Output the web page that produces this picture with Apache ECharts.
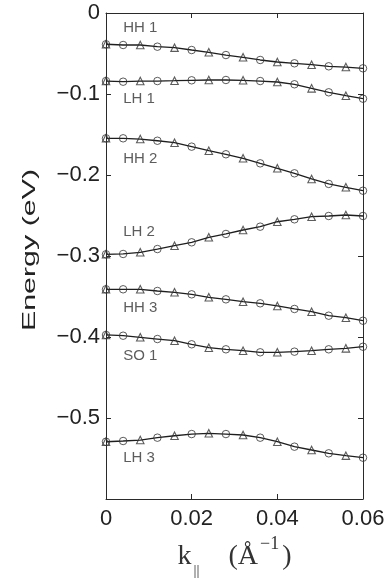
<!DOCTYPE html>
<html>
<head>
<meta charset="utf-8">
<script src="https://cdn.jsdelivr.net/npm/echarts@6/dist/echarts.min.js"></script>
<style>
html,body{margin:0;padding:0;background:#fff;}
#chart{width:387px;height:581px;}
</style>
</head>
<body>
<div id="chart"></div>
<script>
// k values (1/Å)
const kValues = [0, 0.004, 0.008, 0.012, 0.016, 0.020, 0.024, 0.028, 0.032, 0.036, 0.040, 0.044, 0.048, 0.052, 0.056, 0.060];
// marker type at each k: 'b' = circle + triangle, 'o' = circle, 't' = triangle
const markerTypes = ['b', 'o', 't', 'o', 't', 'o', 't', 'o', 't', 'o', 't', 'o', 't', 'o', 't', 'o'];

// subband energies (eV)
const hh1 = [-0.0386, -0.0395, -0.0395, -0.0416, -0.0428, -0.0457, -0.0485, -0.0519, -0.0547, -0.0580, -0.0605, -0.0621, -0.0638, -0.0658, -0.0667, -0.0683];
const lh1 = [-0.0840, -0.0848, -0.0840, -0.0840, -0.0836, -0.0831, -0.0827, -0.0827, -0.0831, -0.0840, -0.0852, -0.0880, -0.0930, -0.0979, -0.1021, -0.1058];
const hh2 = [-0.1547, -0.1547, -0.1556, -0.1577, -0.1601, -0.1650, -0.1700, -0.1744, -0.1794, -0.1856, -0.1917, -0.1979, -0.2049, -0.2110, -0.2152, -0.2194];
const lh2 = [-0.2979, -0.2975, -0.2954, -0.2914, -0.2873, -0.2831, -0.2769, -0.2728, -0.2679, -0.2638, -0.2577, -0.2547, -0.2515, -0.2506, -0.2494, -0.2506];
const hh3 = [-0.3411, -0.3411, -0.3411, -0.3432, -0.3448, -0.3473, -0.3510, -0.3535, -0.3564, -0.3584, -0.3617, -0.3654, -0.3688, -0.3737, -0.3762, -0.3799];
const so1 = [-0.3975, -0.3984, -0.4004, -0.4025, -0.4046, -0.4090, -0.4132, -0.4152, -0.4169, -0.4189, -0.4189, -0.4181, -0.4169, -0.4152, -0.4140, -0.4120];
const lh3 = [-0.5293, -0.5284, -0.5272, -0.5243, -0.5219, -0.5198, -0.5189, -0.5198, -0.5210, -0.5243, -0.5293, -0.5354, -0.5395, -0.5436, -0.5465, -0.5490];

const bandNames = ['HH 1', 'LH 1', 'HH 2', 'LH 2', 'HH 3', 'SO 1', 'LH 3'];
const bandLabelK = [0.004, 0.004, 0.004, 0.004, 0.004, 0.004, 0.004];
const bandLabelE = [-0.0185, -0.106, -0.1806, -0.2707, -0.3638, -0.4231, -0.5486];

// axis ticks
const xTicks = [0, 0.02, 0.04, 0.06];
const yTicks = [0, -0.1, -0.2, -0.3, -0.4, -0.5, -0.6];
const yTickLabels = ['0', '\u22120.1', '\u22120.2', '\u22120.3', '\u22120.4', '\u22120.5', ''];

const bands = [hh1, lh1, hh2, lh2, hh3, so1, lh3];

const lineColor = '#1e1e1e';
const markColor = '#333';

const series = [];
bands.forEach((b, i) => {
  series.push({
    type: 'line', name: bandNames[i], xAxisIndex: 0, yAxisIndex: 0,
    data: kValues.map((k, j) => [k, b[j]]),
    symbol: 'none', smooth: false,
    lineStyle: { color: lineColor, width: 1.3 },
    z: 3, silent: true
  });
});
const circles = [], tris = [];
bands.forEach((b) => {
  kValues.forEach((k, j) => {
    if (markerTypes[j] === 'o' || markerTypes[j] === 'b') circles.push([k, b[j]]);
    if (markerTypes[j] === 't' || markerTypes[j] === 'b') tris.push([k, b[j]]);
  });
});
series.push({
  type: 'scatter', name: 'circles', data: circles, symbol: 'circle', symbolSize: 7.5,
  itemStyle: { color: 'rgba(0,0,0,0)', borderColor: markColor, borderWidth: 1 }, z: 4, silent: true
});
series.push({
  type: 'scatter', name: 'triangles', data: tris, symbol: 'triangle', symbolSize: 7.5,
  itemStyle: { color: 'rgba(0,0,0,0)', borderColor: markColor, borderWidth: 1.1 }, z: 4, silent: true
});
series.push({
  type: 'scatter', name: 'labels',
  data: bandNames.map((n, i) => ({ value: [bandLabelK[i], bandLabelE[i]], name: n })),
  symbolSize: 0, silent: true, z: 5,
  label: {
    show: true, position: 'right', distance: 0,
    formatter: p => p.name,
    fontFamily: 'Liberation Sans, Arial, sans-serif', fontSize: 15, color: '#333'
  }
});

const chart = echarts.init(document.getElementById('chart'), null, { renderer: 'canvas' });
const axisLineStyle = { color: '#2a2a2a', width: 1 };
const fmtX = v => {
  const i = xTicks.findIndex(t => Math.abs(t - v) < 1e-9);
  return i === 0 ? '0' : (i > 0 ? xTicks[i].toFixed(2) : '');
};
const fmtY = v => {
  const i = yTicks.findIndex(t => Math.abs(t - v) < 1e-9);
  return i >= 0 ? yTickLabels[i] : '';
};
const serif = 'Liberation Serif, DejaVu Serif, serif';
chart.setOption({
  animation: false,
  backgroundColor: '#fff',
  grid: { left: 106, right: 24, top: 13, bottom: 82, containLabel: false, outerBoundsMode: 'none' },
  xAxis: [{
    type: 'value', position: 'bottom', min: 0, max: 0.06, interval: 0.02,
    axisLine: { show: true, onZero: false, lineStyle: axisLineStyle },
    axisTick: { show: true, inside: true, length: 5, lineStyle: axisLineStyle },
    splitLine: { show: false },
    axisLabel: { formatter: fmtX, fontFamily: 'Liberation Sans, Arial, sans-serif', fontSize: 22, color: '#222', margin: 9 },
    name: '{k|k}{s|||}{p|(Å}{u|\u22121}{p|)}',
    nameLocation: 'middle', nameGap: 27,
    nameTextStyle: {
      rich: {
        k: { fontFamily: serif, fontSize: 28, lineHeight: 44, color: '#333' },
        s: { fontFamily: serif, fontSize: 15, lineHeight: 15, verticalAlign: 'bottom', color: '#333', padding: [0, 29, 0, 2] },
        p: { fontFamily: serif, fontSize: 28, lineHeight: 44, color: '#333' },
        u: { fontFamily: serif, fontSize: 18, lineHeight: 18, verticalAlign: 'top', color: '#333', padding: [0, 3, 0, 2] }
      }
    }
  }, {
    type: 'value', position: 'top', min: 0, max: 0.06, interval: 0.02,
    axisLine: { show: true, onZero: false, lineStyle: axisLineStyle },
    axisTick: { show: true, inside: true, length: 5, lineStyle: axisLineStyle },
    axisLabel: { show: false }, splitLine: { show: false }
  }],
  yAxis: [{
    type: 'value', position: 'left', min: -0.6, max: 0, interval: 0.1,
    axisLine: { show: true, onZero: false, lineStyle: axisLineStyle },
    axisTick: { show: true, inside: true, length: 5, lineStyle: axisLineStyle },
    splitLine: { show: false },
    axisLabel: { formatter: fmtY, fontFamily: 'Liberation Sans, Arial, sans-serif', fontSize: 22, color: '#222', margin: 6 }
  }, {
    type: 'value', position: 'right', min: -0.6, max: 0, interval: 0.1,
    axisLine: { show: true, onZero: false, lineStyle: axisLineStyle },
    axisTick: { show: true, inside: true, length: 5, lineStyle: axisLineStyle },
    axisLabel: { show: false }, splitLine: { show: false }
  }],
  graphic: [{
    type: 'text', x: 30, y: 250, rotation: Math.PI / 2, scaleX: 1.6,
    style: {
      text: 'Energy (eV)', fontFamily: 'Liberation Sans, Arial, sans-serif', fontSize: 19,
      fill: '#222', align: 'center', verticalAlign: 'middle'
    }
  }],
  series: series
});
</script>
</body>
</html>
